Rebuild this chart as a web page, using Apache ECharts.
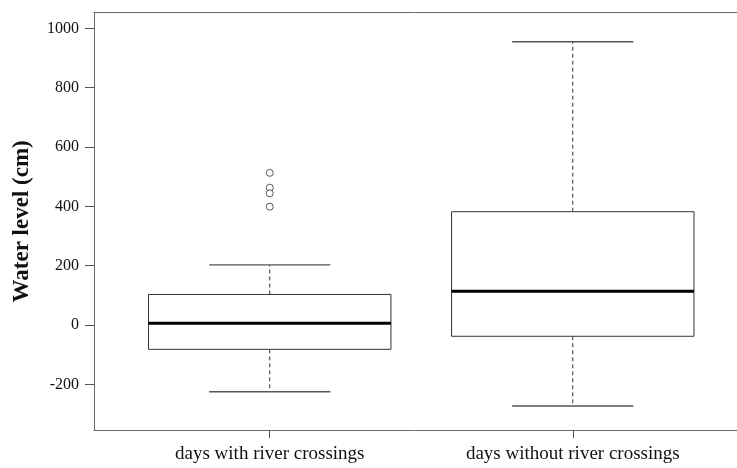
<!DOCTYPE html>
<html>
<head>
<meta charset="utf-8">
<script src="https://cdn.jsdelivr.net/npm/echarts@6/dist/echarts.min.js"></script>
<style>html,body{margin:0;padding:0;background:#fff}#c{width:737px;height:468px}</style>
</head>
<body>
<div id="c"></div>
<script>
const categories = ['days with river crossings', 'days without river crossings'];
const positions = [1, 2];
// [low whisker, Q1, median, Q3, high whisker]
const boxWith = [-225, -82, 6, 103, 203];
const boxWithout = [-273, -38, 114, 382, 955];
const outliersWith = [513, 463, 444, 399];
const yTicks = [-200, 0, 200, 400, 600, 800, 1000];

const boxes = [boxWith, boxWithout].map((b, i) => [positions[i]].concat(b));
const outlierPts = outliersWith.map(v => [positions[0], v]);

const chart = echarts.init(document.getElementById('c'), null, {renderer: 'canvas'});
const FONT = 'Liberation Serif';
const LINE = '#333';
const FRAME = '#6a6a6a';

chart.setOption({
  animation: false,
  backgroundColor: '#fff',
  grid: {left: 94, right: 0, top: 12.7, bottom: 38},
  xAxis: [{
    type: 'value', min: 0.42, max: 2.542,
    splitLine: {show: false},
    axisLine: {show: true, onZero: false, lineStyle: {color: FRAME, width: 1}},
    axisTick: {show: true, customValues: positions, length: 8, lineStyle: {color: '#555'}},
    axisLabel: {
      show: true, customValues: positions, margin: 15,
      fontFamily: FONT, fontSize: 19, color: '#111',
      formatter: v => categories[positions.indexOf(v)] || ''
    }
  }, {
    type: 'value', position: 'top', min: 0.42, max: 2.542,
    splitLine: {show: false},
    axisLine: {show: true, onZero: false, lineStyle: {color: FRAME, width: 1}},
    axisTick: {show: false}, axisLabel: {show: false}
  }],
  yAxis: {
    type: 'value', min: -354, max: 1053,
    splitLine: {show: false},
    axisLine: {show: true, onZero: false, lineStyle: {color: FRAME, width: 1}},
    axisTick: {show: true, customValues: yTicks, length: 9, lineStyle: {color: '#555'}},
    axisLabel: {show: true, customValues: yTicks, margin: 15, fontFamily: FONT, fontSize: 16, color: '#111',
      formatter: v => String(v)},
    name: 'Water level (cm)', nameLocation: 'middle', nameGap: 60,
    nameTextStyle: {fontFamily: FONT, fontSize: 23, fontWeight: 'bold', color: '#111'}
  },
  series: [
    {
      type: 'custom',
      data: boxes,
      renderItem: function (params, api) {
        const x = api.value(0);
        const lo = api.coord([x, api.value(1)]);
        const q1 = api.coord([x, api.value(2)]);
        const md = api.coord([x, api.value(3)]);
        const q3 = api.coord([x, api.value(4)]);
        const hi = api.coord([x, api.value(5)]);
        const w = api.size([0.8, 0])[0];
        const cw = api.size([0.4, 0])[0];
        const cx = lo[0];
        return {
          type: 'group',
          children: [
            {type: 'line', shape: {x1: cx, y1: q3[1], x2: cx, y2: hi[1]}, style: {stroke: LINE, lineWidth: 1, lineDash: [4, 3]}},
            {type: 'line', shape: {x1: cx, y1: q1[1], x2: cx, y2: lo[1]}, style: {stroke: LINE, lineWidth: 1, lineDash: [4, 3]}},
            {type: 'line', shape: {x1: cx - cw / 2, y1: hi[1], x2: cx + cw / 2, y2: hi[1]}, style: {stroke: '#555', lineWidth: 1.3}},
            {type: 'line', shape: {x1: cx - cw / 2, y1: lo[1], x2: cx + cw / 2, y2: lo[1]}, style: {stroke: '#555', lineWidth: 1.3}},
            {type: 'rect', shape: {x: cx - w / 2, y: q3[1], width: w, height: q1[1] - q3[1]}, style: {fill: '#fff', stroke: LINE, lineWidth: 1}},
            {type: 'line', shape: {x1: cx - w / 2, y1: md[1], x2: cx + w / 2, y2: md[1]}, style: {stroke: '#000', lineWidth: 3}}
          ]
        };
      }
    },
    {
      type: 'scatter',
      data: outlierPts,
      symbol: 'circle',
      symbolSize: 7,
      itemStyle: {color: '#fff', borderColor: '#333', borderWidth: 1}
    }
  ]
});
</script>
</body>
</html>
